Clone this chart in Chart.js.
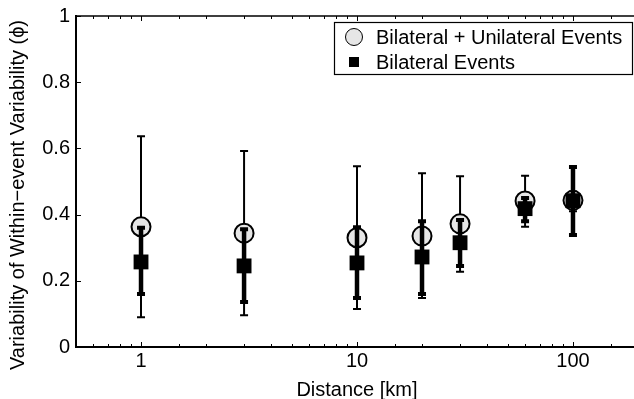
<!DOCTYPE html>
<html>
<head>
<meta charset="utf-8">
<script src="https://cdn.jsdelivr.net/npm/chart.js@4/dist/chart.umd.min.js"></script>
<style>
  html, body { margin: 0; padding: 0; background: #fff; overflow: hidden; }
  /* the canvas is a bit wider than the window so the plot box runs off the right edge */
  #wrap { width: 634px; height: 399px; overflow: hidden; position: relative; }
  #chart { position: absolute; left: 0; top: 0; }
</style>
</head>
<body>
<div id="wrap"><canvas id="chart" width="642" height="399"></canvas></div>
<script>
// distances in km (log axis)
const distances = [1, 3, 10, 20, 30, 60, 100];

// Bilateral + Unilateral events (circles)
const bothMean = [0.363, 0.344, 0.330, 0.335, 0.372, 0.441, 0.443];
const bothLow  = [0.090, 0.096, 0.115, 0.148, 0.227, 0.363, 0.410];
const bothHigh = [0.637, 0.592, 0.546, 0.525, 0.516, 0.517, 0.470];

// Bilateral events (squares)
const bilatMean = [0.257, 0.245, 0.254, 0.272, 0.315, 0.418, 0.442];
const bilatLow  = [0.160, 0.136, 0.148, 0.160, 0.245, 0.380, 0.338];
const bilatHigh = [0.360, 0.356, 0.362, 0.380, 0.384, 0.450, 0.544];

const xTickLabels = [1, 10, 100];
const yTicks = [0, 0.2, 0.4, 0.6, 0.8, 1];
const yTitle = "Variability of Within\u2212event Variability (\u03d5)";

const FONT = "'Liberation Sans', Arial, Helvetica, sans-serif";

function toPoints(xs, ys, lo, hi) {
  return xs.map((x, i) => ({ x: x, y: ys[i], lo: lo[i], hi: hi[i] }));
}

// error bars drawn just before each dataset's markers
const errorBars = {
  id: "errorBars",
  beforeDatasetDraw(chart, args) {
    const ds = chart.data.datasets[args.index];
    const xs = chart.scales.x, ys = chart.scales.y;
    const ctx = chart.ctx;
    ctx.save();
    ctx.strokeStyle = "#000";
    ds.data.forEach((p) => {
      const px = xs.getPixelForValue(p.x);
      const top = ys.getPixelForValue(p.hi);
      const bot = ys.getPixelForValue(p.lo);
      ctx.lineWidth = ds.barWidth;
      ctx.beginPath();
      ctx.moveTo(px, top);
      ctx.lineTo(px, bot);
      ctx.stroke();
      ctx.lineWidth = ds.capWidth;
      ctx.beginPath();
      ctx.moveTo(px - 4, top);
      ctx.lineTo(px + 4, top);
      ctx.moveTo(px - 4, bot);
      ctx.lineTo(px + 4, bot);
      ctx.stroke();
    });
    ctx.restore();
  }
};

// box, inward ticks, y title, legend inside the plot
const frame = {
  id: "frame",
  afterDraw(chart) {
    const ctx = chart.ctx;
    const a = chart.chartArea;
    const xs = chart.scales.x, ys = chart.scales.y;
    ctx.save();
    ctx.strokeStyle = "#000";
    ctx.lineWidth = 1.5;
    ctx.beginPath();
    ctx.moveTo(a.left, a.top);
    ctx.lineTo(a.right, a.top);
    ctx.lineTo(a.right, a.bottom);
    ctx.stroke();

    ctx.lineWidth = 1;
    ctx.beginPath();
    xs.ticks.forEach((t) => {
      if (t.value < xs.min || t.value > xs.max) return;
      const px = Math.round(xs.getPixelForValue(t.value)) + 0.5;
      const len = xTickLabels.includes(t.value) ? 5 : 3;
      ctx.moveTo(px, a.bottom);
      ctx.lineTo(px, a.bottom - len);
      ctx.moveTo(px, a.top);
      ctx.lineTo(px, a.top + len);
    });
    yTicks.forEach((v) => {
      const py = Math.round(ys.getPixelForValue(v)) + 0.5;
      ctx.moveTo(a.left, py);
      ctx.lineTo(a.left + 5, py);
    });
    ctx.stroke();

    // y axis title
    ctx.fillStyle = "#000";
    ctx.font = "20px " + FONT;
    ctx.textAlign = "center";
    ctx.textBaseline = "middle";
    ctx.translate(18, 195);
    ctx.rotate(-Math.PI / 2);
    ctx.fillText(yTitle, 0, 0);
    ctx.setTransform(1, 0, 0, 1, 0, 0);

    // legend
    const lx = 334, ly = 22, lw = 298, lh = 52;
    ctx.fillStyle = "#fff";
    ctx.fillRect(lx, ly, lw, lh);
    ctx.lineWidth = 1.2;
    ctx.strokeRect(lx + 0.5, ly + 0.5, lw, lh);
    ctx.textBaseline = "middle";
    ctx.textAlign = "left";
    chart.data.datasets.forEach((ds, i) => {
      const cy = ly + 15 + i * 25;
      const cx = lx + 20;
      ctx.beginPath();
      if (ds.pointStyle === "circle") {
        ctx.arc(cx, cy, 8.5, 0, Math.PI * 2);
        ctx.fillStyle = ds.backgroundColor;
        ctx.fill();
        ctx.lineWidth = 1;
        ctx.stroke();
      } else {
        ctx.fillStyle = ds.backgroundColor;
        ctx.fillRect(cx - 5, cy - 5, 10, 10);
      }
      ctx.fillStyle = "#000";
      ctx.fillText(ds.label, lx + 42, cy + 1);
    });
    ctx.restore();
  }
};

new Chart(document.getElementById("chart"), {
  type: "scatter",
  data: {
    datasets: [
      {
        label: "Bilateral + Unilateral Events",
        data: toPoints(distances, bothMean, bothLow, bothHigh),
        pointStyle: "circle",
        pointRadius: 9.5,
        pointHoverRadius: 9.5,
        backgroundColor: "#e6e6e6",
        borderColor: "#000",
        borderWidth: 2,
        barWidth: 2,
        capWidth: 2,
        order: 2
      },
      {
        label: "Bilateral Events",
        data: toPoints(distances, bilatMean, bilatLow, bilatHigh),
        pointStyle: "rect",
        pointRadius: 10.5,
        pointHoverRadius: 10.5,
        backgroundColor: "#000",
        borderColor: "#000",
        borderWidth: 0,
        barWidth: 4.5,
        capWidth: 4,
        order: 1
      }
    ]
  },
  options: {
    responsive: false,
    animation: false,
    events: [],
    layout: { autoPadding: false, padding: { top: 16, right: 4, left: 0, bottom: 0 } },
    plugins: {
      legend: { display: false },
      tooltip: { enabled: false }
    },
    scales: {
      x: {
        type: "logarithmic",
        min: 0.5,
        max: 200,
        grid: { display: false, drawTicks: false },
        border: { display: true, color: "#000", width: 2 },
        afterFit(scale) {
          scale.height = 52;
          scale.paddingLeft = 0;
          scale.paddingRight = 0;
        },
        ticks: {
          autoSkip: false,
          maxRotation: 0,
          padding: 2,
          color: "#000",
          font: { family: FONT, size: 20 },
          callback: (v) => (xTickLabels.includes(v) ? String(v) : "")
        },
        title: {
          display: true,
          text: "Distance [km]",
          color: "#000",
          font: { family: FONT, size: 20 },
          padding: { top: 0, bottom: -3 }
        }
      },
      y: {
        min: 0,
        max: 1,
        grid: { display: false, drawTicks: false },
        border: { display: true, color: "#000", width: 2 },
        afterFit(scale) {
          scale.width = 76;
          scale.paddingTop = 0;
          scale.paddingBottom = 0;
        },
        afterBuildTicks(scale) { scale.ticks = yTicks.map((v) => ({ value: v })); },
        ticks: {
          padding: 6,
          color: "#000",
          font: { family: FONT, size: 20 },
          callback: (v) => String(v)
        }
      }
    }
  },
  plugins: [errorBars, frame]
});
</script>
</body>
</html>
